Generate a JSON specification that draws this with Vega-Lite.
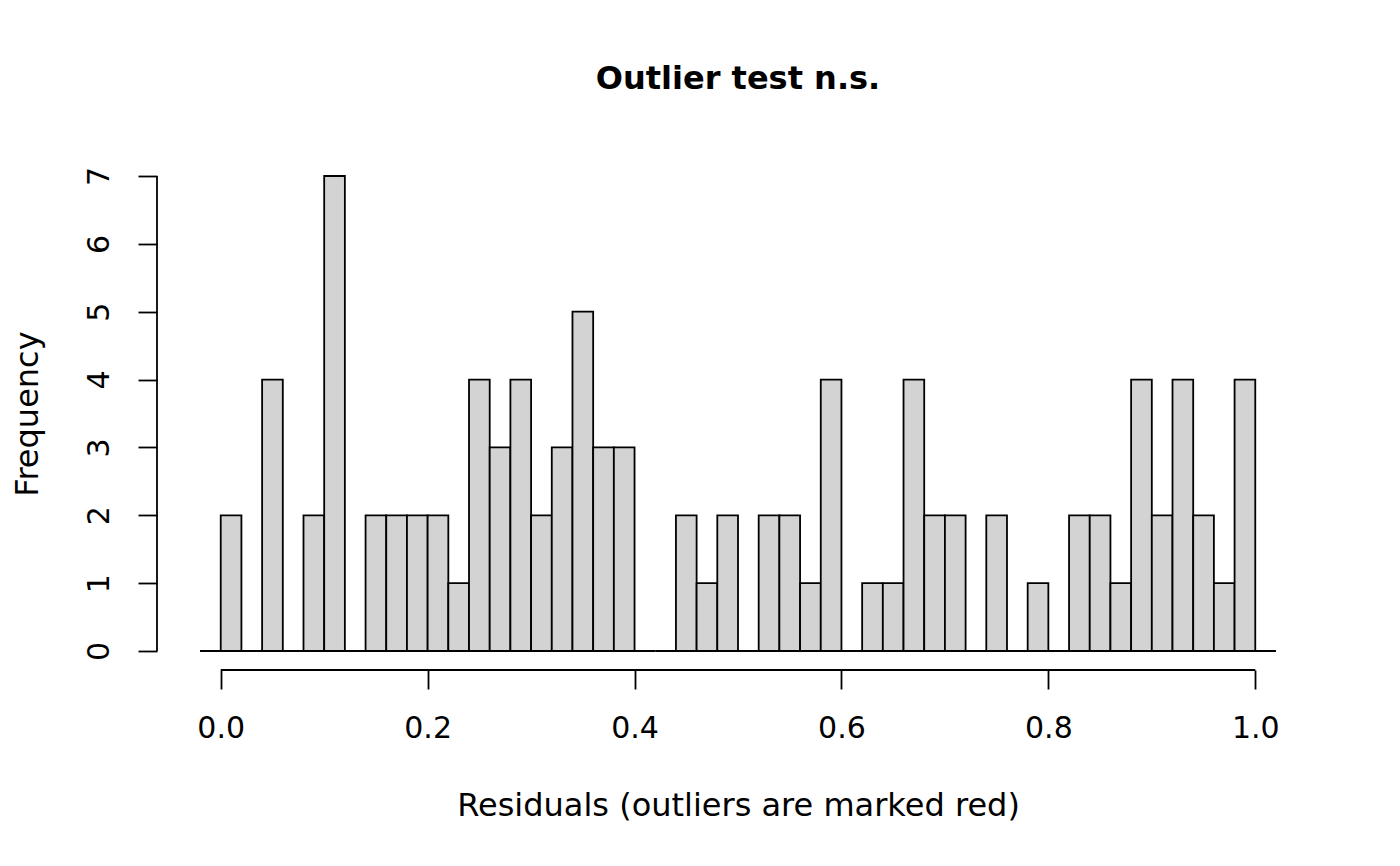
{
  "$schema": "https://vega.github.io/schema/vega-lite/v6.json",
  "autosize": "none",
  "width": 1162,
  "height": 513,
  "padding": {"left": 157, "top": 157, "right": 81, "bottom": 196},
  "background": "white",
  "config": {
    "view": {"stroke": null},
    "font": "DejaVu Sans",
    "axis": {"grid": false, "domain": false, "tickColor": "black", "tickWidth": 1.8, "tickSize": 19, "labelColor": "black", "labelFont": "DejaVu Sans", "labelFontSize": 30, "titleFont": "DejaVu Sans", "titleFontSize": 32, "titleFontWeight": "normal", "titleColor": "black"}
  },
  "title": {"text": "Outlier test n.s.", "fontSize": 32, "fontWeight": "bold", "font": "DejaVu Sans", "color": "black", "anchor": "middle", "baseline": "middle", "offset": 46, "frame": "group"},
  "datasets": {
    "bins": [
      {"bin_start": -0.02, "bin_end": 0.0, "count": 0},
      {"bin_start": 0.0, "bin_end": 0.02, "count": 2},
      {"bin_start": 0.02, "bin_end": 0.04, "count": 0},
      {"bin_start": 0.04, "bin_end": 0.06, "count": 4},
      {"bin_start": 0.06, "bin_end": 0.08, "count": 0},
      {"bin_start": 0.08, "bin_end": 0.10, "count": 2},
      {"bin_start": 0.10, "bin_end": 0.12, "count": 7},
      {"bin_start": 0.12, "bin_end": 0.14, "count": 0},
      {"bin_start": 0.14, "bin_end": 0.16, "count": 2},
      {"bin_start": 0.16, "bin_end": 0.18, "count": 2},
      {"bin_start": 0.18, "bin_end": 0.20, "count": 2},
      {"bin_start": 0.20, "bin_end": 0.22, "count": 2},
      {"bin_start": 0.22, "bin_end": 0.24, "count": 1},
      {"bin_start": 0.24, "bin_end": 0.26, "count": 4},
      {"bin_start": 0.26, "bin_end": 0.28, "count": 3},
      {"bin_start": 0.28, "bin_end": 0.30, "count": 4},
      {"bin_start": 0.30, "bin_end": 0.32, "count": 2},
      {"bin_start": 0.32, "bin_end": 0.34, "count": 3},
      {"bin_start": 0.34, "bin_end": 0.36, "count": 5},
      {"bin_start": 0.36, "bin_end": 0.38, "count": 3},
      {"bin_start": 0.38, "bin_end": 0.40, "count": 3},
      {"bin_start": 0.40, "bin_end": 0.42, "count": 0},
      {"bin_start": 0.42, "bin_end": 0.44, "count": 0},
      {"bin_start": 0.44, "bin_end": 0.46, "count": 2},
      {"bin_start": 0.46, "bin_end": 0.48, "count": 1},
      {"bin_start": 0.48, "bin_end": 0.50, "count": 2},
      {"bin_start": 0.50, "bin_end": 0.52, "count": 0},
      {"bin_start": 0.52, "bin_end": 0.54, "count": 2},
      {"bin_start": 0.54, "bin_end": 0.56, "count": 2},
      {"bin_start": 0.56, "bin_end": 0.58, "count": 1},
      {"bin_start": 0.58, "bin_end": 0.60, "count": 4},
      {"bin_start": 0.60, "bin_end": 0.62, "count": 0},
      {"bin_start": 0.62, "bin_end": 0.64, "count": 1},
      {"bin_start": 0.64, "bin_end": 0.66, "count": 1},
      {"bin_start": 0.66, "bin_end": 0.68, "count": 4},
      {"bin_start": 0.68, "bin_end": 0.70, "count": 2},
      {"bin_start": 0.70, "bin_end": 0.72, "count": 2},
      {"bin_start": 0.72, "bin_end": 0.74, "count": 0},
      {"bin_start": 0.74, "bin_end": 0.76, "count": 2},
      {"bin_start": 0.76, "bin_end": 0.78, "count": 0},
      {"bin_start": 0.78, "bin_end": 0.80, "count": 1},
      {"bin_start": 0.80, "bin_end": 0.82, "count": 0},
      {"bin_start": 0.82, "bin_end": 0.84, "count": 2},
      {"bin_start": 0.84, "bin_end": 0.86, "count": 2},
      {"bin_start": 0.86, "bin_end": 0.88, "count": 1},
      {"bin_start": 0.88, "bin_end": 0.90, "count": 4},
      {"bin_start": 0.90, "bin_end": 0.92, "count": 2},
      {"bin_start": 0.92, "bin_end": 0.94, "count": 4},
      {"bin_start": 0.94, "bin_end": 0.96, "count": 2},
      {"bin_start": 0.96, "bin_end": 0.98, "count": 1},
      {"bin_start": 0.98, "bin_end": 1.00, "count": 4},
      {"bin_start": 1.00, "bin_end": 1.02, "count": 0}
    ],
    "xaxisline": [{"from": 0, "to": 1, "level": -0.28}],
    "yaxisline": [{"from": 0, "to": 7, "pos": -0.0616}]
  },
  "layer": [
    {
      "data": {"name": "bins"},
      "mark": {"type": "rect", "fill": "#D3D3D3", "stroke": "black", "strokeWidth": 1.8},
      "encoding": {
        "x": {"field": "bin_start", "type": "quantitative",
              "scale": {"domain": [-0.0616, 1.0616], "nice": false, "zero": false},
              "axis": {"values": [0, 0.2, 0.4, 0.6, 0.8, 1.0], "format": ".1f", "labelBaseline": "middle", "labelPadding": 39, "labelFlush": false, "labelOverlap": false, "title": "Residuals (outliers are marked red)", "titleBaseline": "middle", "titleY": 135, "titleX": 581, "titleAnchor": null}},
        "x2": {"field": "bin_end"},
        "y": {"field": "count", "type": "quantitative",
              "scale": {"domain": [-0.28, 7.28], "nice": false, "zero": false},
              "axis": {"values": [0, 1, 2, 3, 4, 5, 6, 7], "format": "d", "labelAngle": 270, "labelAlign": "center", "labelBaseline": "middle", "labelPadding": 39, "labelFlush": false, "labelOverlap": false, "title": "Frequency", "titleAngle": 270, "titleBaseline": "middle", "titleAlign": "center", "titleX": -130, "titleY": 256.5}},
        "y2": {"datum": 0}
      }
    },
    {
      "data": {"name": "xaxisline"},
      "mark": {"type": "rule", "color": "black", "strokeWidth": 1.8},
      "encoding": {
        "x": {"field": "from", "type": "quantitative"},
        "x2": {"field": "to"},
        "y": {"field": "level", "type": "quantitative"}
      }
    },
    {
      "data": {"name": "yaxisline"},
      "mark": {"type": "rule", "color": "black", "strokeWidth": 1.8},
      "encoding": {
        "y": {"field": "from", "type": "quantitative"},
        "y2": {"field": "to"},
        "x": {"field": "pos", "type": "quantitative"}
      }
    }
  ]
}
